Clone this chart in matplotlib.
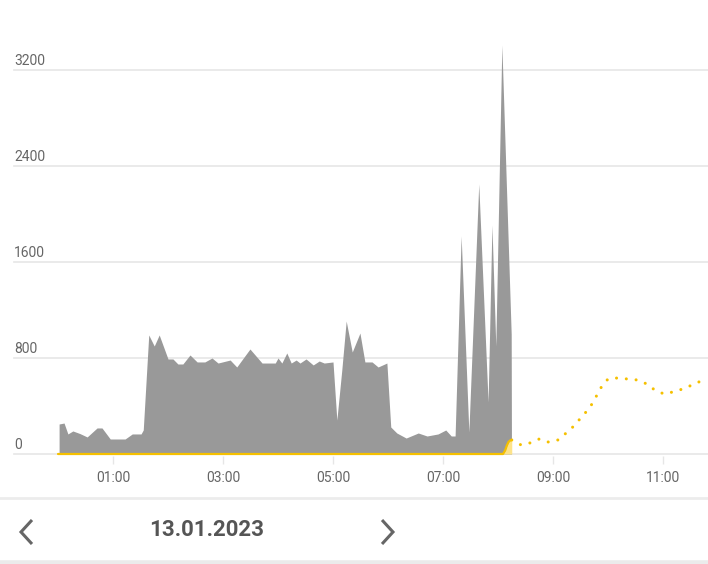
import matplotlib
matplotlib.use("Agg")
import matplotlib.pyplot as plt
from matplotlib.lines import Line2D

plt.rcParams['font.family'] = ['Roboto', 'DejaVu Sans']

# consumption (grey area), hours since 00:00 -> value
load_t = [0.02, 0.11, 0.18, 0.27, 0.40, 0.53, 0.71, 0.80, 0.95, 1.22, 1.35, 1.51, 1.55,
          1.65, 1.75, 1.84, 2.00, 2.09, 2.18, 2.27, 2.40, 2.53, 2.67, 2.80, 2.91, 3.13,
          3.25, 3.49, 3.71, 3.95, 4.00, 4.07, 4.16, 4.24, 4.33, 4.40, 4.51, 4.64, 4.75,
          4.84, 5.00, 5.07, 5.16, 5.24, 5.35, 5.49, 5.58, 5.71, 5.82, 5.98, 6.05, 6.16,
          6.33, 6.55, 6.71, 6.91, 7.05, 7.15, 7.22, 7.33, 7.47, 7.65, 7.82, 7.89, 7.96,
          8.07, 8.24, 8.245]
load_v = [250, 258, 167, 192, 170, 142, 217, 217, 125, 125, 167, 167, 200,
          992, 900, 992, 792, 792, 750, 750, 825, 767, 767, 800, 758, 783,
          725, 875, 758, 758, 800, 758, 842, 758, 783, 758, 792, 742, 775,
          758, 767, 283, 700, 1108, 850, 1008, 767, 767, 725, 758, 225, 175,
          133, 175, 150, 167, 200, 150, 150, 1817, 183, 2250, 433, 1908, 900,
          3408, 1000, 0]

# production so far (yellow filled)
prod_t = [0.0, 8.09, 8.13, 8.16, 8.19, 8.22, 8.25]
prod_v = [0, 0, 30, 70, 100, 113, 117]

# forecast (yellow dotted)
fc_t = [8.25, 8.42, 8.58, 8.75, 8.91, 9.09, 9.24, 9.36, 9.49, 9.60, 9.71, 9.80, 9.89,
        10.00, 10.16, 10.36, 10.53, 10.71, 10.85, 11.02, 11.18, 11.36, 11.53, 11.69, 11.82]
fc_v = [117, 75, 92, 125, 100, 117, 175, 225, 292, 350, 417, 492, 567,
        625, 633, 625, 617, 583, 533, 500, 517, 542, 575, 608, 625]

y_ticks = [0, 800, 1600, 2400, 3200]
x_ticks = [1, 3, 5, 7, 9, 11]
x_labels = ["01:00", "03:00", "05:00", "07:00", "09:00", "11:00"]
date_label = "13.01.2023"

W, H = 708, 564
fig = plt.figure(figsize=(W / 100, H / 100), dpi=100)

# pixel layout: 00:00 at x=58, 55 px per hour; 0 at y=454, 0.12 px per unit
px_h = 55.0
px_u = 0.12
ax_bottom_px, ax_top_px = 456, 30
ax = fig.add_axes([0, (H - ax_bottom_px) / H, 1, (ax_bottom_px - ax_top_px) / H])
ax.set_xlim(-58 / px_h, (W - 58) / px_h)
ax.set_ylim(-(ax_bottom_px - 454) / px_u, (454 - ax_top_px) / px_u)
for s in ax.spines.values():
    s.set_visible(False)

grid_x0 = (14 - 58) / px_h
for v in y_ticks:
    ax.plot([grid_x0, (W - 58) / px_h], [v, v], color='#e6e6e6', lw=1.2, zorder=0)
    ax.text(grid_x0, v + 5 / px_u, str(v), ha='left', va='baseline',
            fontsize=10, color='#666666')

ax.fill_between(load_t, load_v, 0, color='#999999', lw=0, zorder=2)

ax.fill_between(prod_t, prod_v, 0, color='#fde38a', lw=0, zorder=3)
ax.plot(prod_t, prod_v, color='#f5c000', lw=1.6, zorder=4, solid_capstyle='round')

ax.plot(fc_t, fc_v, color='#f5c000', lw=2.2, linestyle=(0, (0.01, 3.2)),
        dash_capstyle='round', zorder=4)

ax.set_yticks([])
ax.set_xticks(x_ticks)
ax.set_xticklabels(x_labels)
ax.tick_params(axis='x', length=6, width=1, color='#e6e6e6', pad=5,
               labelsize=10, labelcolor='#666666')

# bottom navigation bar
def hline_px(y, lw, color):
    fig.add_artist(Line2D([0, 1], [1 - y / H, 1 - y / H], transform=fig.transFigure,
                          color=color, lw=lw))

hline_px(498, 2.0, '#ececec')
hline_px(563, 4.0, '#ebebeb')

def chevron(pts):
    xs = [p[0] / W for p in pts]
    ys = [1 - p[1] / H for p in pts]
    fig.add_artist(Line2D(xs, ys, transform=fig.transFigure, color='#666666', lw=2.2,
                          solid_joinstyle='miter', solid_capstyle='butt'))

chevron([(32, 520), (21, 532), (32, 544)])
chevron([(382, 520), (393, 532), (382, 544)])

fig.text(207 / W, 1 - 530 / H, date_label, ha='center', va='center', fontsize=16,
         fontweight='bold', color='#555555')

fig.savefig('out.png', dpi=100, facecolor='white')
